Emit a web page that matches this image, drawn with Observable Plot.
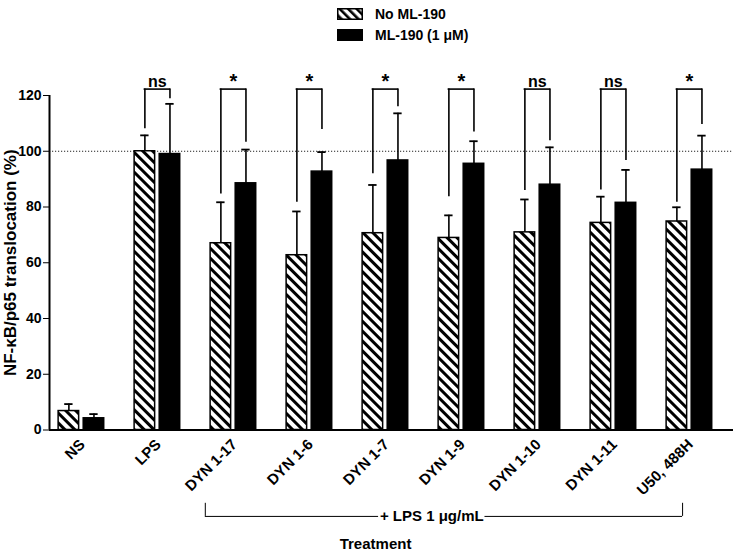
<!DOCTYPE html>
<html><head><meta charset="utf-8">
<script src="https://cdn.jsdelivr.net/npm/d3@7"></script>
<script src="https://cdn.jsdelivr.net/npm/@observablehq/plot@0.6"></script>
<style>
body{margin:0;background:#fff;font-family:"Liberation Sans",Arial,sans-serif;}
#legend{position:relative;height:50px;width:733px;font-weight:bold;font-size:14px;}
#legend .item{position:absolute;left:337px;display:flex;align-items:center;}
#legend .item span{margin-left:12px;}
#chart g[aria-label="y-axis tick label"], #chart g[aria-label="y-axis tick label"] text {font-size:14px !important;}
#chart g[aria-label="x-axis tick label"], #chart g[aria-label="x-axis tick label"] text {font-size:15px !important;}
</style></head><body>
<div id="legend">
  <div class="item" style="top:6px"><svg width="26" height="12"><defs><pattern id="lhatch" width="6" height="6" patternUnits="userSpaceOnUse" patternTransform="rotate(-45)"><rect width="6" height="6" fill="white"/><rect width="2.6" height="6" fill="black"/></pattern></defs><rect x="0.75" y="0.75" width="24.5" height="10.5" fill="url(#lhatch)" stroke="black" stroke-width="1.5"/></svg><span>No ML-190</span></div>
  <div class="item" style="top:27px"><svg width="26" height="12"><rect x="0" y="0" width="26" height="12" fill="black"/></svg><span>ML-190 (1 μM)</span></div>
</div>
<div id="chart"></div>
<script>
const categories = ["NS","LPS","DYN 1-17","DYN 1-6","DYN 1-7","DYN 1-9","DYN 1-10","DYN 1-11","U50, 488H"];
const noML      = [6.8, 100, 67.0, 62.7, 70.6, 68.9, 70.9, 74.3, 74.8];
const noMLErr   = [9.3, 105.7, 81.7, 78.4, 87.9, 77.0, 82.7, 83.7, 79.9];
const ml        = [4.2, 99.0, 88.5, 92.7, 96.7, 95.5, 88.0, 81.5, 93.4];
const mlErr     = [5.7, 117.0, 100.6, 99.7, 113.6, 103.6, 101.4, 93.3, 105.6];
const sigLabels = [null, "ns", "*", "*", "*", "*", "ns", "ns", "*"];
const legLeft   = [null, 108.1, 84.7, 81.7, 91.9, 83.7, 85.9, 86.1, 81.7];
const legRight  = [null, 118.8, 103.2, 107.8, 116.0, 106.9, 103.8, 96.7, 109.6];
const bracketTop = 122.3;
const yTicks = [0, 20, 40, 60, 80, 100, 120];
const groupNote = "+ LPS 1 μg/mL";
const xTitle = "Treatment";
const yTitle = "NF-κB/p65 translocation (%)";

const off = 0.165, half = 0.135, cap = 0.055;
const bars = [];
categories.forEach((c, i) => {
  bars.push({i, s: "no", v: noML[i], e: noMLErr[i], cx: i - off});
  bars.push({i, s: "ml", v: ml[i], e: mlErr[i], cx: i + off});
});
const sig = categories.map((c, i) => ({i, label: sigLabels[i], l: legLeft[i], r: legRight[i]})).filter(d => d.label);

const plot = Plot.plot({
  width: 733, height: 500,
  marginLeft: 49, marginRight: 0, marginTop: 45, marginBottom: 120.5,
  style: {fontFamily: "'Liberation Sans', Arial, sans-serif", fontSize: "14px", fontWeight: "bold", color: "black", overflow: "visible"},
  x: {domain: [-0.42, 8.58]},
  y: {domain: [0, 120]},
  marks: [
    Plot.ruleY([100], {stroke: "#222", strokeWidth: 1, strokeDasharray: "1.2,1.8"}),
    Plot.ruleX(bars, {x: "cx", y1: "v", y2: "e", stroke: "black", strokeWidth: 1.6}),
    Plot.ruleY(bars, {y: "e", x1: d => d.cx - cap, x2: d => d.cx + cap, stroke: "black", strokeWidth: 1.8}),
    Plot.rectY(bars, {x1: d => d.cx - half, x2: d => d.cx + half, y1: 0, y2: "v",
      fill: d => d.s === "no" ? "url(#hatch)" : "black", stroke: "black", strokeWidth: 1.5}),
    // significance brackets
    Plot.ruleX(sig, {x: d => d.i - off, y1: "l", y2: bracketTop, stroke: "black", strokeWidth: 1.6}),
    Plot.ruleX(sig, {x: d => d.i + off, y1: "r", y2: bracketTop, stroke: "black", strokeWidth: 1.6}),
    Plot.ruleY(sig, {y: bracketTop, x1: d => d.i - off - 0.01, x2: d => d.i + off + 0.01, stroke: "black", strokeWidth: 1.6}),
    Plot.text(sig.filter(d => d.label === "ns"), {x: "i", y: bracketTop, text: "label", lineAnchor: "bottom", dy: -2, fontSize: 16, fontWeight: "bold"}),
    Plot.text(sig.filter(d => d.label === "*"), {x: "i", y: bracketTop, text: "label", lineAnchor: "bottom", dy: -1, fontSize: 20, fontWeight: "bold"}),
    // axes
    Plot.axisY({ticks: yTicks, tickSize: 6, tickPadding: 2, label: null}),
    Plot.axisX({ticks: d3.range(categories.length), tickFormat: i => categories[i], tickRotate: -45, tickSize: 0, tickPadding: 12, dx: 1, label: null}),
    Plot.ruleX([-0.42], {y1: 0, y2: 120, stroke: "black", strokeWidth: 2}),
    Plot.ruleY([0], {stroke: "black", strokeWidth: 2}),
    Plot.text([yTitle], {frameAnchor: "left", textAnchor: "middle", dx: -39, rotate: -90, fontSize: 17, fontWeight: "bold"}),
    // bottom group bracket
    Plot.ruleY([-31], {x1: 1.63, x2: 3.91, stroke: "black", strokeWidth: 1}),
    Plot.ruleY([-31], {x1: 5.31, x2: 7.91, stroke: "black", strokeWidth: 1}),
    Plot.ruleX([1.63, 7.91], {y1: -31, y2: -26.3, stroke: "black", strokeWidth: 1}),
    Plot.text([groupNote], {x: 4.61, y: -31, fontSize: 15, fontWeight: "bold"}),
    Plot.text([xTitle], {x: 3.87, y: -40.8, fontSize: 15, fontWeight: "bold"})
  ]
});
plot.insertAdjacentHTML("afterbegin", '<defs><pattern id="hatch" width="7" height="7" patternUnits="userSpaceOnUse" patternTransform="rotate(-45)"><rect width="7" height="7" fill="white"/><rect width="3" height="7" fill="black"/></pattern></defs>');
document.getElementById("chart").appendChild(plot);
</script>
</body></html>
